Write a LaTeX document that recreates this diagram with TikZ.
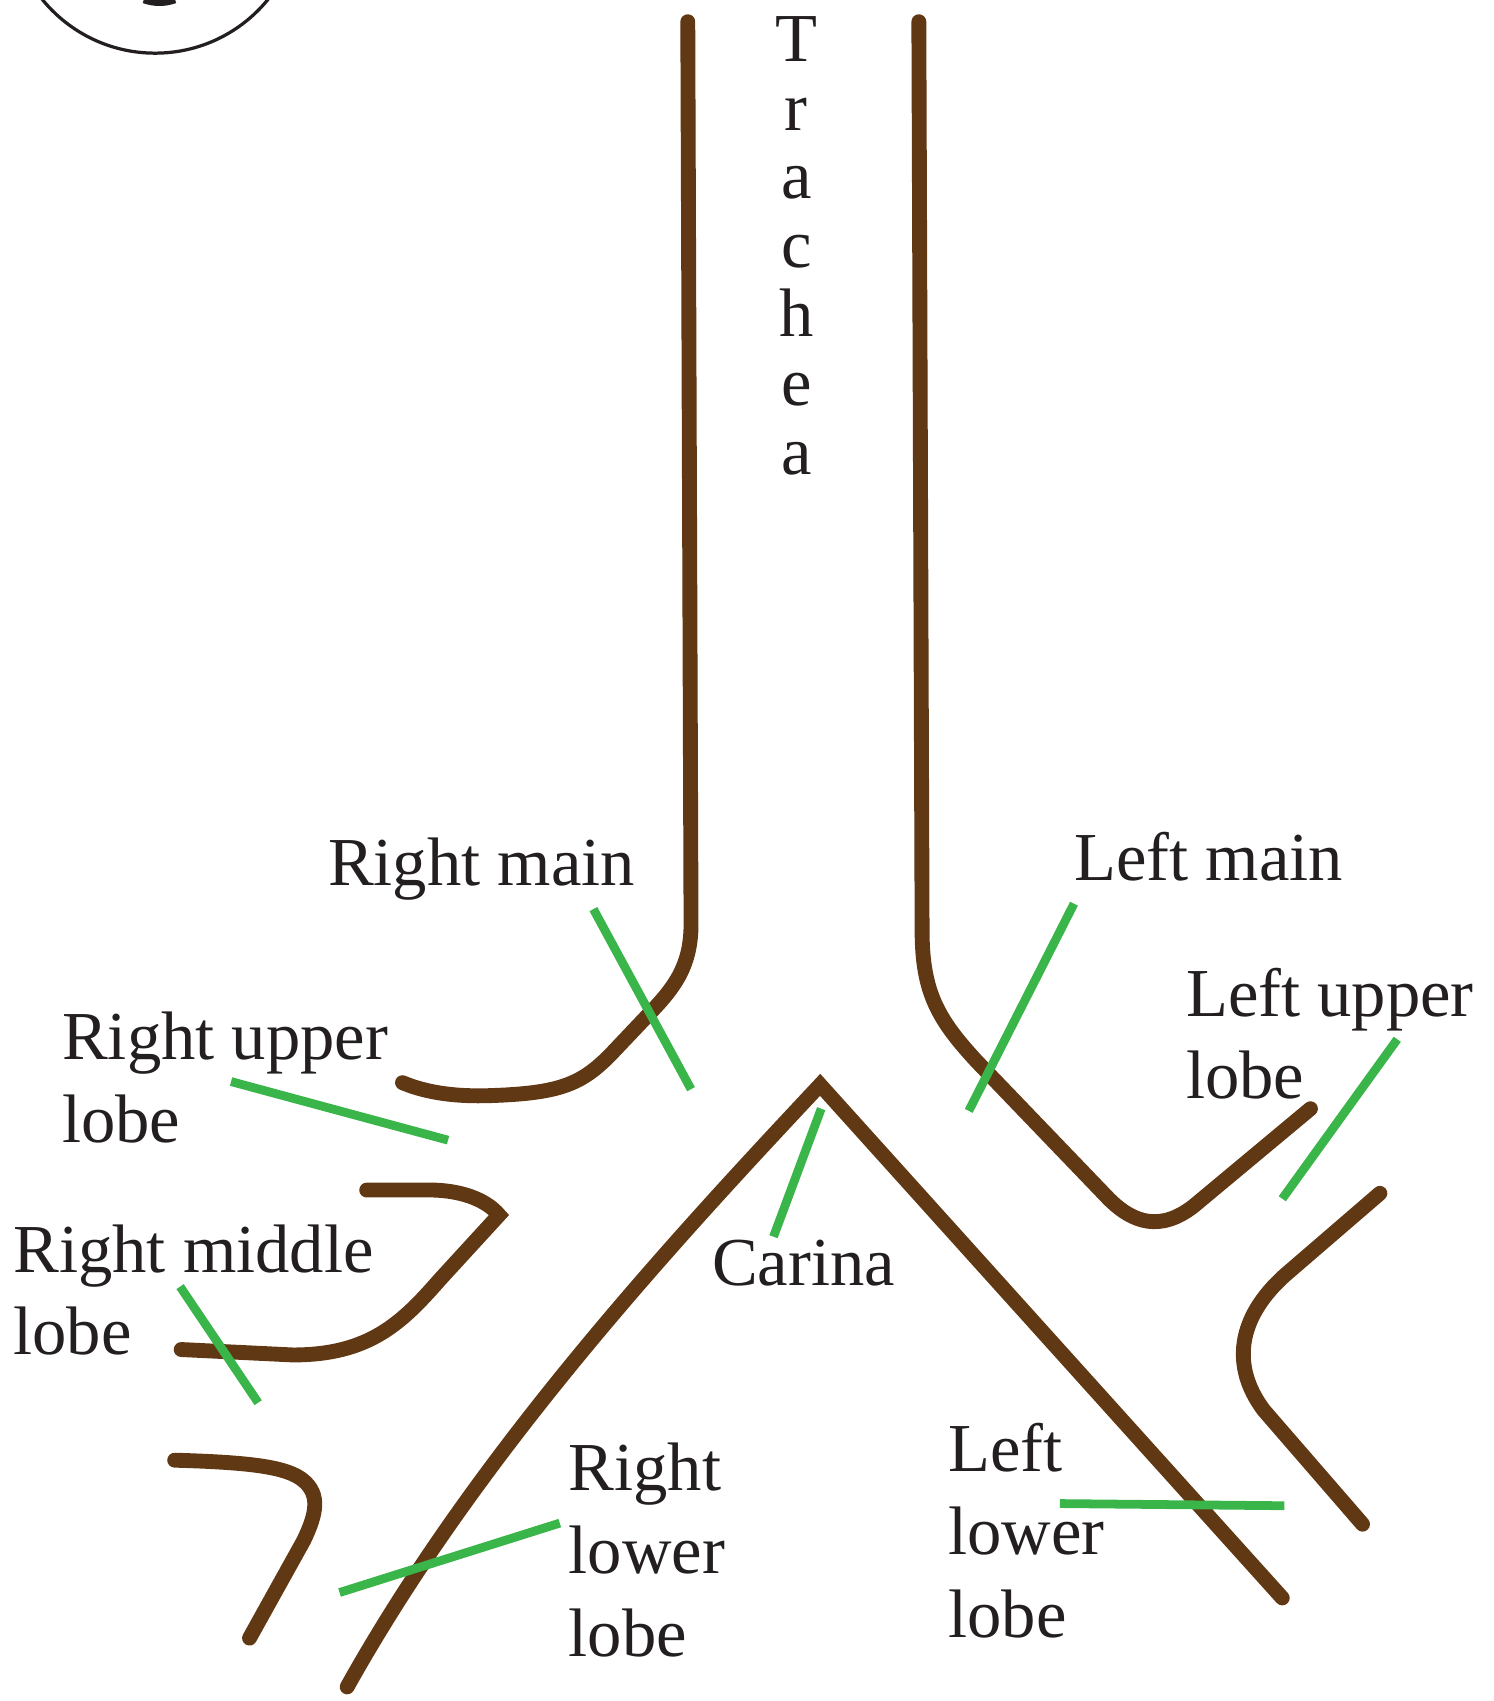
\documentclass[tikz,border=0pt]{standalone}
\usepackage{fontspec}
\setmainfont{Liberation Serif}
\usepackage{xcolor}

\definecolor{bronchus}{RGB}{96,56,19}
\definecolor{leadgreen}{RGB}{57,181,74}
\definecolor{ink}{RGB}{35,31,32}

\begin{document}
\begin{tikzpicture}[x=0.02cm, y=-0.02cm,
    wall/.style={line width=7.8pt, draw=bronchus, line cap=round},
    leader/.style={line width=4.6pt, draw=leadgreen},
    lbl/.style={inner sep=0pt, anchor=base west, align=left, text=ink,
                font=\fontsize{36}{43.5}\selectfont}]
        \useasboundingbox (0,0) rectangle (1377,1568);

        % Circle in the corner
        \draw[line width=1.7pt, ink] (143,-85) circle (134);
        \draw[line width=4pt, ink] (147,-40) ++(70:42) arc (70:110:42);

        % Trachea, left wall running into the right upper lobe
        \draw[wall] (634,20) -- (637,852)
            .. controls (637,892) and (620,912) .. (598,935) -- (562,973)
            .. controls (535,1000) and (515,1008) .. (450,1010)
            .. controls (415,1011) and (390,1006) .. (371,998);

        % Trachea, right wall running into the left upper lobe
        \draw[wall] (847,20) -- (850,858)
            .. controls (850,915) and (865,940) .. (900,978) -- (1022,1105)
            .. controls (1045,1128) and (1070,1135) .. (1100,1112) -- (1208,1022);

        % Left upper / lower lobe wall
        \draw[wall] (1272,1100) -- (1185,1175)
            .. controls (1140,1215) and (1135,1260) .. (1165,1300) -- (1256,1405);

        % Carina
        \draw[wall] (320,1555) .. controls (440,1340) and (620,1145) .. (756,1000)
            -- (1182,1473);

        % Right middle lobe
        \draw[wall] (338,1097) -- (400,1097)
            .. controls (430,1098) and (450,1108) .. (460,1120) -- (405,1180)
            .. controls (370,1220) and (340,1249) .. (270,1249) -- (167,1244);

        % Right lower lobe
        \draw[wall] (161,1346) .. controls (230,1348) and (265,1352) .. (280,1365)
            .. controls (295,1378) and (292,1395) .. (280,1420) -- (230,1510);

        % Labels (base = last line)
        \node[lbl, anchor=base, align=center, font=\fontsize{36}{36.1}\selectfont]
            (trachea) at (734,437) {T\\r\\a\\c\\h\\e\\a};
        \node[lbl] (rmain) at (302,816) {Right main};
        \node[lbl] (lmain) at (990,812) {Left main};
        \node[lbl] (rupper) at (57,1053) {Right upper\\lobe};
        \node[lbl] (lupper) at (1093,1013) {Left upper\\lobe};
        \node[lbl] (rmiddle) at (12,1249) {Right middle\\lobe};
        \node[lbl] (carina) at (656,1185) {Carina};
        \node[lbl] (rlower) at (524,1527) {Right\\lower\\lobe};
        \node[lbl] (llower) at (874,1509) {Left\\lower\\lobe};

        % Leader lines
        \draw[leader] (547,838) -- (637,1004);
        \draw[leader] (990,833) -- (893,1024);
        \draw[leader] (213,997) -- (413,1051);
        \draw[leader] (1288,958) -- (1182,1105);
        \draw[leader] (166,1186) -- (238,1293);
        \draw[leader] (757,1022) -- (713,1140);
        \draw[leader] (313,1468) -- (516,1404);
        \draw[leader] (977,1386) -- (1184,1388);
\end{tikzpicture}
\end{document}
